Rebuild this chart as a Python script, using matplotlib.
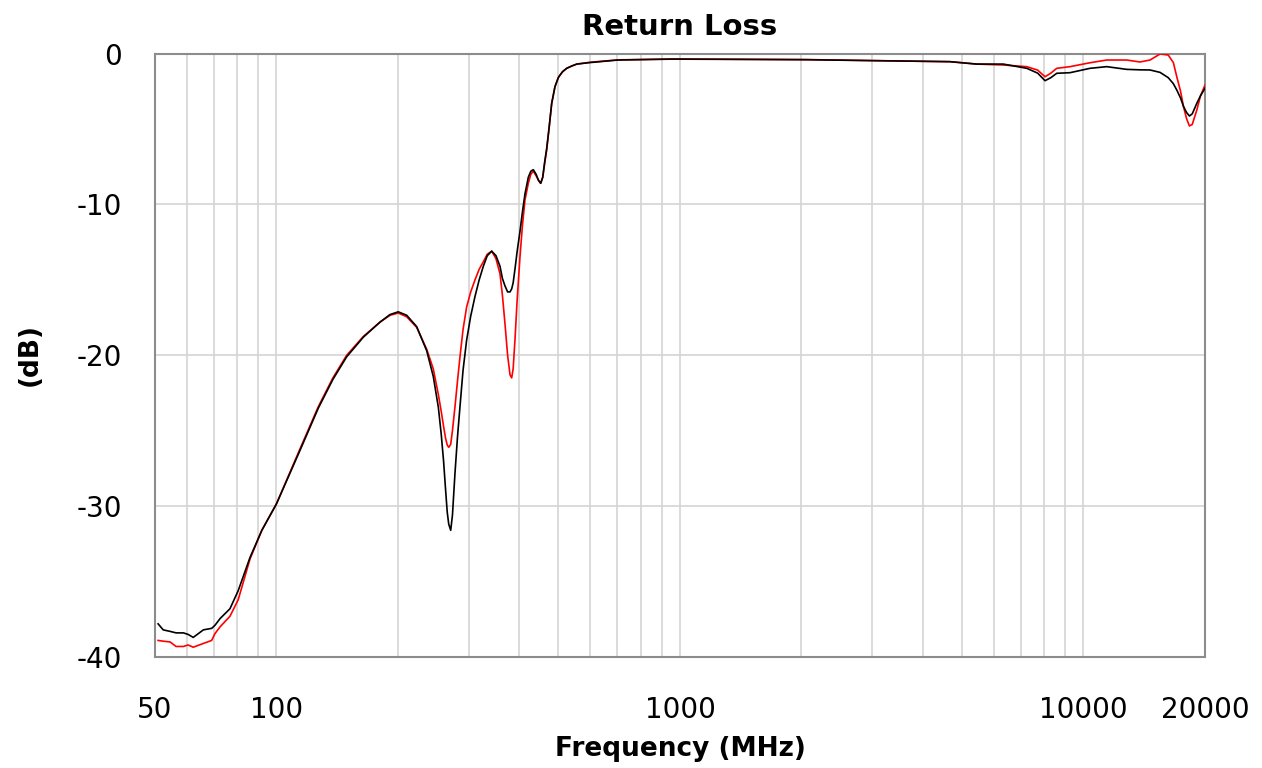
import matplotlib
matplotlib.use("Agg")
import matplotlib.pyplot as plt
from matplotlib.ticker import FixedLocator, NullFormatter, NullLocator

# frequency points (MHz)
freq = [50.9, 52.4, 54.5, 56.4, 58.8, 60.4, 62.2, 65.9, 69.1, 70.4, 72.5, 76.7,
        80.4, 86.0, 92.0, 100, 114.4, 127.0, 138.0, 149.3, 164.2, 180.6, 191.2,
        200.4, 210.3, 222.6, 235.7, 244.7, 251.9, 256.0, 259.5, 262.5, 265.0,
        267.3, 270.3, 273.0, 277.0, 281.0, 285.0, 290.0, 296.0, 303.0, 310.5,
        318.0, 325.6, 333.0, 341.6, 350.0, 358.1, 363.0, 368.4, 374.0, 379.2,
        382.8, 386.0, 390, 395.0, 401.3, 407.0, 413, 420.9, 427.0, 433.1, 440.0,
        446.0, 451.7, 457.0, 462.0, 467.4, 474.0, 481, 490.0, 499.4, 504.3, 512.0,
        524.0, 540.0, 555.0, 598, 702, 961, 2064, 3009, 4670, 5438, 6330, 7236,
        7700, 8029, 8300, 8585, 9262, 10382, 11420, 12800, 13800, 14620, 15480,
        16220, 16700, 17030, 17400, 17690, 18000, 18300, 18600, 19090, 19500, 20000]

# black trace (dB)
rl_black = [-37.8, -38.2, -38.3, -38.4, -38.4, -38.5, -38.7, -38.2, -38.1, -37.9,
            -37.45, -36.8, -35.6, -33.4, -31.6, -29.85, -26.3, -23.5, -21.6, -20.1,
            -18.8, -17.8, -17.3, -17.12, -17.35, -18.1, -19.7, -21.4, -23.45, -25.2,
            -27.0, -28.9, -30.4, -31.2, -31.6, -30.6, -27.8, -25.4, -23.4, -21.0,
            -19.0, -17.4, -16.1, -15.0, -14.1, -13.4, -13.1, -13.4, -14.1, -14.9,
            -15.4, -15.8, -15.8, -15.6, -15.2, -14.3, -13.1, -11.8, -10.5, -9.3,
            -8.2, -7.8, -7.7, -8.0, -8.4, -8.6, -8.2, -7.2, -6.3, -4.9, -3.3, -2.2,
            -1.6, -1.43, -1.2, -0.98, -0.82, -0.7, -0.6, -0.43, -0.37, -0.41, -0.47,
            -0.54, -0.70, -0.70, -0.98, -1.3, -1.8, -1.6, -1.31, -1.27, -0.98, -0.87,
            -1.05, -1.08, -1.09, -1.25, -1.6, -2.0, -2.42, -2.95, -3.5, -3.9,
            -4.14, -4.0, -3.3, -2.8, -2.3]

# red trace (dB)
rl_red = [-38.9, -38.95, -39.0, -39.3, -39.3, -39.2, -39.35, -39.1, -38.9, -38.45,
          -38.0, -37.3, -36.2, -33.5, -31.6, -29.85, -26.2, -23.4, -21.5, -20.0,
          -18.75, -17.8, -17.35, -17.2, -17.45, -18.15, -19.6, -20.9, -22.6, -23.7,
          -24.7, -25.5, -25.95, -26.1, -25.9, -25.0, -23.4, -21.7, -20.1, -18.3,
          -16.8, -15.8, -15.0, -14.3, -13.8, -13.3, -13.1, -13.6, -14.6, -16.0,
          -17.9, -20.0, -21.3, -21.5, -20.9, -19.0, -16.3, -13.5, -11.4, -9.7,
          -8.6, -8.0, -7.8, -8.1, -8.4, -8.6, -8.2, -7.3, -6.4, -4.9, -3.3, -2.2,
          -1.6, -1.43, -1.2, -0.98, -0.82, -0.7, -0.58, -0.42, -0.36, -0.4, -0.47,
          -0.54, -0.70, -0.76, -0.87, -1.1, -1.54, -1.3, -0.98, -0.87, -0.61, -0.43,
          -0.43, -0.56, -0.43, -0.03, -0.1, -0.6, -1.54, -2.5, -3.5, -4.3,
          -4.8, -4.7, -3.75, -2.8, -2.1]

xtick_vals = [50, 100, 1000, 10000, 20000]
ytick_vals = [0, -10, -20, -30, -40]

fig = plt.figure(figsize=(12.62, 7.68), dpi=100)
ax = fig.add_axes([0.1228, 0.1445, 0.832, 0.7858])

ax.plot(freq, rl_red, color='#ff0000', lw=1.2, zorder=3)
ax.plot(freq, rl_black, color='#000000', lw=1.2, zorder=4)

ax.set_xscale('log')
ax.set_xlim(50, 20000)
ax.set_ylim(-40, 0)

# grid at every 1-9 decade step, like the original
grid_x = [m * 10 ** d for d in range(1, 5) for m in range(1, 10)]
grid_x = [g for g in grid_x if 50 < g < 20000]
for g in grid_x:
    ax.axvline(g, color='#d4d4d4', lw=1.2, zorder=1)
for g in [-10, -20, -30]:
    ax.axhline(g, color='#d4d4d4', lw=1.2, zorder=1)

ax.xaxis.set_major_locator(FixedLocator(xtick_vals))
ax.xaxis.set_minor_locator(NullLocator())
ax.xaxis.set_minor_formatter(NullFormatter())
ax.set_xticklabels([str(v) for v in xtick_vals])
ax.set_yticks(ytick_vals)
ax.set_yticklabels([str(v) for v in ytick_vals])
ax.tick_params(axis='both', length=0, labelsize=20)
ax.tick_params(axis='x', pad=28)
ax.tick_params(axis='y', pad=24)

for sp in ax.spines.values():
    sp.set_color('#8c8c8c')
    sp.set_linewidth(1.5)

ax.set_title('Return Loss', fontsize=21, fontweight='bold', pad=13)
ax.set_xlabel('Frequency (MHz)', fontsize=19, fontweight='bold', labelpad=9)
fig.text(30 / 1262, 1 - 355 / 768, '(dB)', rotation=90, fontsize=19,
         fontweight='bold', ha='center', va='center')

plt.savefig('out.png', dpi=100)
